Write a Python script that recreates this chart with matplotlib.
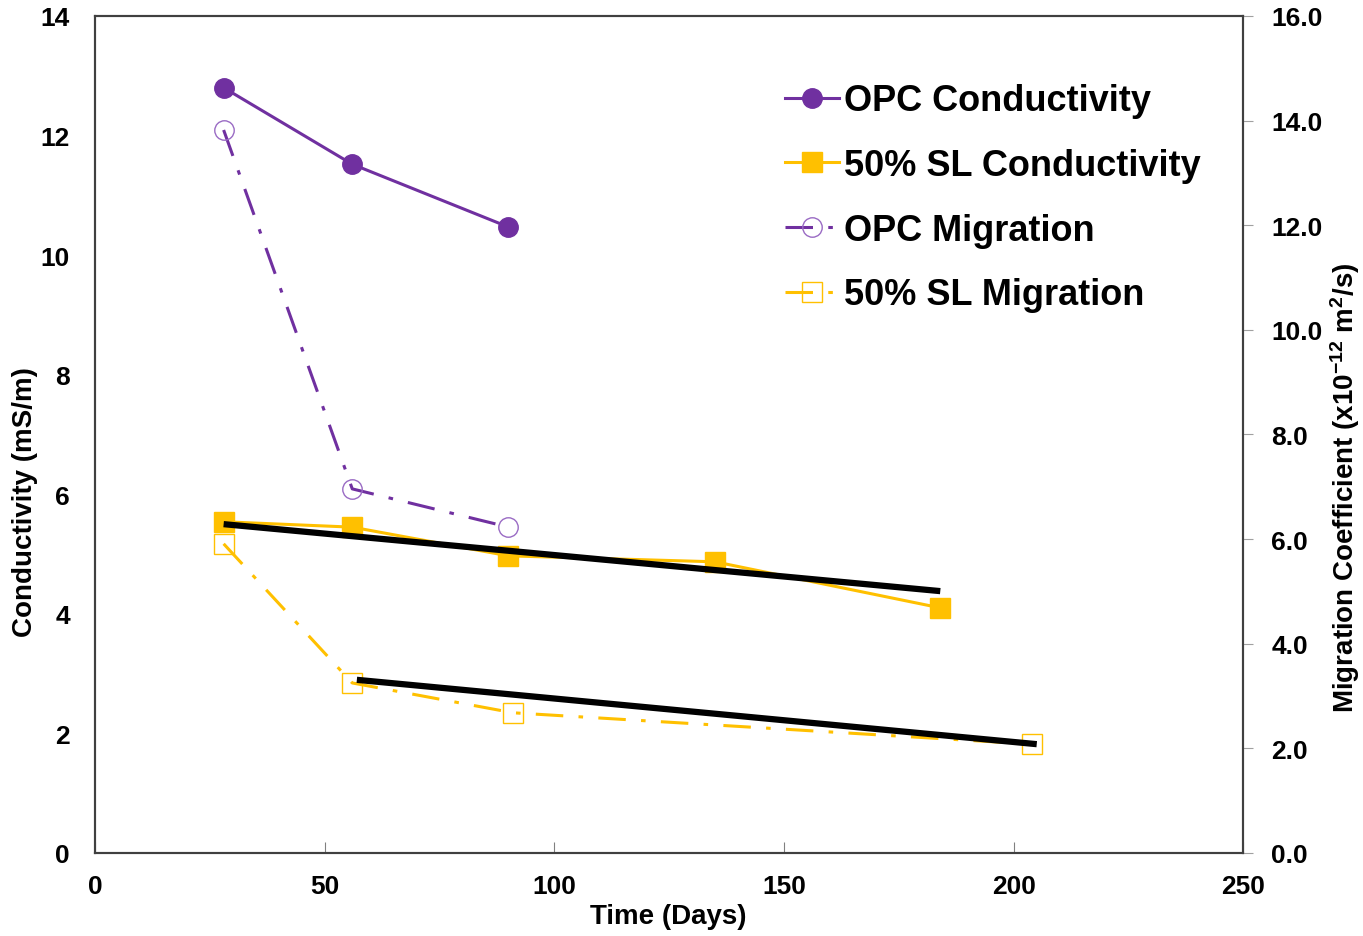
import matplotlib
matplotlib.use("Agg")
import matplotlib.pyplot as plt
from matplotlib.ticker import FormatStrFormatter

plt.rcParams['font.family'] = ['Liberation Sans', 'DejaVu Sans']
plt.rcParams['font.weight'] = 'bold'
plt.rcParams['mathtext.fontset'] = 'custom'
plt.rcParams['mathtext.rm'] = 'Liberation Sans:bold'
plt.rcParams['mathtext.bf'] = 'Liberation Sans:bold'
plt.rcParams['mathtext.default'] = 'bf'

# Data
opc_days = [28, 56, 90]
opc_cond = [12.8, 11.52, 10.47]
sl_days = [28, 56, 90, 135, 184]
sl_cond = [5.54, 5.45, 4.97, 4.87, 4.10]
opc_mig_days = [28, 56, 90]
opc_mig = [13.82, 6.96, 6.23]
sl_mig_days = [28, 56, 91, 204]
sl_mig = [5.91, 3.25, 2.68, 2.08]
trend_cond_days = [28, 184]
trend_cond = [5.50, 4.38]
trend_mig_days = [57, 205]
trend_mig = [3.31, 2.08]

PURPLE = '#7030A0'
GOLD = '#FFC000'

fig = plt.figure(figsize=(13.63, 9.37), dpi=100)
ax = fig.add_axes([0.0697, 0.0886, 0.8426, 0.8933])
ax2 = ax.twinx()

l1, = ax.plot(opc_days, opc_cond, color=PURPLE, lw=2.2, marker='o', ms=14,
              label='OPC Conductivity', zorder=3)
l2, = ax.plot(sl_days, sl_cond, color=GOLD, lw=2.2, marker='s', ms=14,
              label='50% SL Conductivity', zorder=3)
ax.plot(trend_cond_days, trend_cond, color='black', lw=4.5, zorder=4,
        solid_capstyle='butt')

dashdot = (0, (9, 5, 1.5, 5))
l3, = ax2.plot(opc_mig_days, opc_mig, color=PURPLE, lw=2.2, ls=dashdot,
               marker='o', ms=14, mfc='none', mec='#9A6BC4', mew=1.0,
               label='OPC Migration', zorder=3)
l4, = ax2.plot(sl_mig_days, sl_mig, color=GOLD, lw=2.2, ls=dashdot,
               marker='s', ms=14, mfc='none', mec=GOLD, mew=1.0,
               label='50% SL Migration', zorder=3)
ax2.plot(trend_mig_days, trend_mig, color='black', lw=4.5, zorder=4,
         solid_capstyle='butt')

ax.set_xlim(0, 250)
ax.set_ylim(0, 14)
ax2.set_ylim(0, 16)
ax.set_xticks([0, 50, 100, 150, 200, 250])
ax.set_yticks(range(0, 15, 2))
ax2.set_yticks(range(0, 17, 2))
ax2.yaxis.set_major_formatter(FormatStrFormatter('%.1f'))

for a in (ax, ax2):
    for s in a.spines.values():
        s.set_color('#404040')
        s.set_linewidth(1.5)

ax.tick_params(axis='x', direction='in', length=8, color='#808080', labelsize=19, pad=15)
ax.tick_params(axis='y', length=0, labelsize=19, pad=18)
ax2.tick_params(axis='y', direction='out', length=7, color='#A0A0A0', labelsize=19, pad=13)

for lab in ax.get_xticklabels() + ax.get_yticklabels() + ax2.get_yticklabels():
    lab.set_fontweight('bold')

ax.set_xlabel('Time (Days)', fontsize=20, fontweight='bold')
ax.set_ylabel('Conductivity (mS/m)', fontsize=20, fontweight='bold')
ax2.set_ylabel('Migration Coefficient (x10$^{-12}$ m$^{2}$/s)', fontsize=20,
               fontweight='bold')
ax.xaxis.set_label_coords(0.499, -0.060)
ax.yaxis.set_label_coords(-0.050, 0.42)
ax2.yaxis.set_label_coords(1.0735, 0.438)

leg = ax.legend(handles=[l1, l2, l3, l4], loc='upper left',
                bbox_to_anchor=(0.585, 0.941), frameon=False,
                prop={'weight': 'bold', 'size': 26}, handlelength=1.5,
                handletextpad=0.15, labelspacing=0.82, borderpad=0)

fig.savefig('out.png', dpi=100)
